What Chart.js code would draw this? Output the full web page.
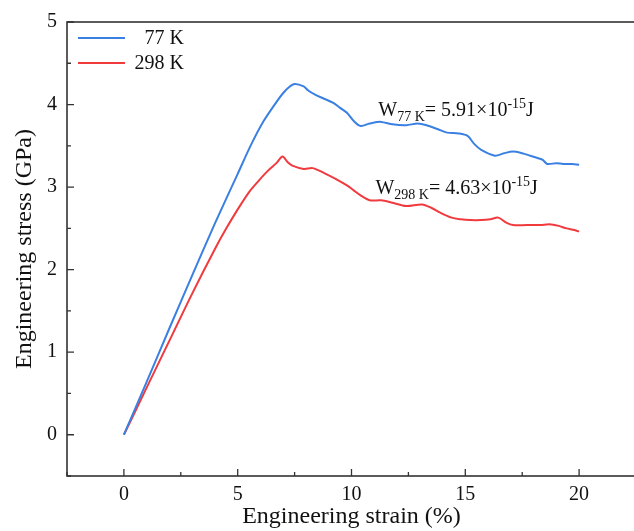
<!DOCTYPE html>
<html>
<head>
<meta charset="utf-8">
<script src="https://cdn.jsdelivr.net/npm/chart.js@4"></script>
<style>
  html, body { margin: 0; padding: 0; background: #fff; overflow: hidden; }
  #wrap { width: 640px; height: 531px; }
</style>
</head>
<body>
<div id="wrap"><canvas id="c" width="640" height="531"></canvas></div>
<script>
// data
const strain77 = [0, 1, 2, 3, 4, 5, 5.6, 6.14, 6.7, 7.0, 7.25, 7.5, 7.9, 8.1, 8.4, 8.8, 9.2, 9.5, 9.8, 10.1, 10.4, 10.8, 11.3, 11.8, 12.4, 12.9, 13.3, 13.8, 14.2, 14.7, 15.1, 15.4, 15.7, 16.3, 16.7, 17.1, 17.5, 17.85, 18.2, 18.4, 18.6, 19.0, 19.3, 19.7, 20.0];
const stress77 = [0, 0.64, 1.29, 1.93, 2.56, 3.16, 3.52, 3.8, 4.03, 4.14, 4.21, 4.25, 4.22, 4.17, 4.12, 4.07, 4.02, 3.96, 3.9, 3.8, 3.74, 3.77, 3.79, 3.76, 3.75, 3.77, 3.75, 3.7, 3.66, 3.65, 3.62, 3.52, 3.45, 3.38, 3.41, 3.43, 3.41, 3.38, 3.35, 3.33, 3.28, 3.29, 3.28, 3.28, 3.27];
const strain298 = [0, 1, 2, 3, 4, 4.5, 5, 5.5, 5.9, 6.3, 6.7, 6.97, 7.2, 7.4, 7.9, 8.3, 8.8, 9.3, 9.8, 10.1, 10.4, 10.8, 11.3, 11.8, 12.4, 13.1, 13.5, 13.9, 14.4, 14.8, 15.2, 15.7, 16.1, 16.45, 16.8, 17.1, 17.7, 18.3, 18.7, 19.1, 19.45, 19.8, 20.0];
const stress298 = [0, 0.57, 1.14, 1.71, 2.25, 2.5, 2.73, 2.94, 3.07, 3.19, 3.29, 3.37, 3.3, 3.26, 3.22, 3.23, 3.17, 3.1, 3.02, 2.96, 2.9, 2.84, 2.84, 2.81, 2.77, 2.79, 2.75, 2.69, 2.63, 2.61, 2.6, 2.6, 2.61, 2.63, 2.57, 2.54, 2.54, 2.54, 2.55, 2.53, 2.5, 2.48, 2.46];

const seriesLabels = ['77 K', '298 K'];
const xTicks = [0, 5, 10, 15, 20];
const yTicks = [0, 1, 2, 3, 4, 5];

const BLUE = '#3a80e2';
const RED = '#f03a3e';
const AXIS = '#333';
const FONT = '"Liberation Serif", "Times New Roman", serif';

const toPoints = (xs, ys) => xs.map((x, i) => ({ x: x, y: ys[i] }));

// frame, inward ticks, legend and the two W labels
const decor = {
  id: 'decor',
  afterDraw(chart) {
    const ctx = chart.ctx;
    const a = chart.chartArea;
    const xs = chart.scales.x, ys = chart.scales.y;
    ctx.save();
    ctx.strokeStyle = AXIS;
    ctx.lineWidth = 1.6;
    ctx.strokeRect(a.left, a.top, a.right - a.left, a.bottom - a.top);

    ctx.lineWidth = 1.3;
    ctx.beginPath();
    for (let v = -2.5; v <= 22.5; v += 2.5) {
      const px = xs.getPixelForValue(v);
      const len = xTicks.includes(v) ? 7 : 4;
      ctx.moveTo(px, a.bottom); ctx.lineTo(px, a.bottom - len);
    }
    for (let v = -0.5; v <= 5; v += 0.5) {
      const py = ys.getPixelForValue(v);
      const len = yTicks.includes(v) ? 7 : 4;
      ctx.moveTo(a.left, py); ctx.lineTo(a.left + len, py);
    }
    ctx.stroke();

    // legend
    const colors = [BLUE, RED];
    ctx.font = '20px ' + FONT;
    ctx.textAlign = 'right';
    ctx.textBaseline = 'middle';
    seriesLabels.forEach((lab, i) => {
      const y = 38 + i * 25;
      ctx.strokeStyle = colors[i];
      ctx.lineWidth = 2.2;
      ctx.beginPath(); ctx.moveTo(78, y); ctx.lineTo(125, y); ctx.stroke();
      ctx.fillStyle = '#111';
      ctx.fillText(lab, 184, y + 1);
    });

    // W labels
    const rich = (x, y, sub, val) => {
      ctx.textAlign = 'left';
      ctx.textBaseline = 'alphabetic';
      ctx.fillStyle = '#111';
      let cx = x;
      const part = (t, size, dy) => {
        ctx.font = size + 'px ' + FONT;
        ctx.fillText(t, cx, y + dy);
        cx += ctx.measureText(t).width;
      };
      part('W', 20, 0);
      part(sub, 14, 5);
      part('= ' + val + '\u00d710', 20, 0);
      part('-15', 14, -8);
      part('J', 20, 0);
    };
    rich(xs.getPixelForValue(11.18), ys.getPixelForValue(3.86), '77 K', '5.91');
    rich(xs.getPixelForValue(11.05), ys.getPixelForValue(2.92), '298 K', '4.63');
    ctx.restore();
  }
};

new Chart(document.getElementById('c'), {
  type: 'scatter',
  data: {
    datasets: [
      { label: seriesLabels[0], data: toPoints(strain77, stress77), showLine: true, borderColor: BLUE, backgroundColor: BLUE, borderWidth: 2, pointRadius: 0, tension: 0.3 },
      { label: seriesLabels[1], data: toPoints(strain298, stress298), showLine: true, borderColor: RED, backgroundColor: RED, borderWidth: 2, pointRadius: 0, tension: 0.3 }
    ]
  },
  options: {
    responsive: false,
    animation: false,
    layout: { padding: { top: 18, right: 4, left: 0, bottom: 0 } },
    plugins: { legend: { display: false }, tooltip: { enabled: false } },
    scales: {
      x: {
        type: 'linear', min: -2.5, max: 22.5,
        afterBuildTicks: s => { s.ticks = xTicks.map(v => ({ value: v })); },
        afterFit: s => { s.height = 55; },
        grid: { display: false, drawTicks: false },
        border: { display: false },
        ticks: { color: '#111', font: { family: FONT, size: 20 }, padding: 7, maxRotation: 0 },
        title: { display: true, text: 'Engineering strain (%)', color: '#111', font: { family: FONT, size: 24 }, padding: { top: 0, bottom: 0 } }
      },
      y: {
        type: 'linear', min: -0.5, max: 5,
        afterBuildTicks: s => { s.ticks = yTicks.map(v => ({ value: v })); },
        afterFit: s => { s.width = 67; },
        grid: { display: false, drawTicks: false },
        border: { display: false },
        ticks: { color: '#111', font: { family: FONT, size: 20 }, padding: 10 },
        title: { display: true, text: 'Engineering stress (GPa)', color: '#111', font: { family: FONT, size: 24 }, padding: { top: 10, bottom: 0 } }
      }
    }
  },
  plugins: [decor]
});
</script>
</body>
</html>
